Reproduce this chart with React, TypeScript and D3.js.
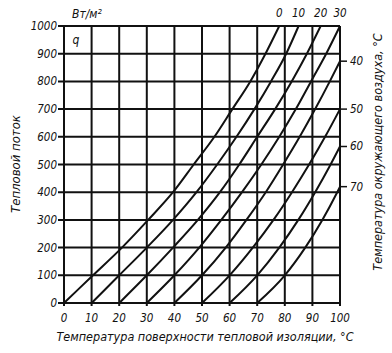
import { scaleLinear, line, curveMonotoneX } from "d3";

const Q_TICKS = [0, 100, 200, 300, 400, 500, 600, 700, 800, 900, 1000];
const T_TICKS = [0, 10, 20, 30, 40, 50, 60, 70, 80, 90, 100];
const TOP_LABELS = ["0", "10", "20", "30"];
const RIGHT_LABELS = ["40", "50", "60", "70"];

// air temperature curves: [surface temp, heat flux]
const C0 = [[0, 0], [10.5, 100], [21, 200], [30.5, 300], [39.5, 400], [47, 500], [54.5, 600], [61, 700], [67.5, 800], [73, 900], [78, 1000]];
const C10 = [[10, 0], [20, 100], [30, 200], [39.5, 300], [48, 400], [55.5, 500], [62.5, 600], [69, 700], [75, 800], [80.5, 900], [85, 1000]];
const C20 = [[20, 0], [30, 100], [39.5, 200], [48.5, 300], [56.5, 400], [63.5, 500], [70, 600], [76.5, 700], [82.5, 800], [88, 900], [93, 1000]];
const C30 = [[30, 0], [40, 100], [49, 200], [57, 300], [64.5, 400], [71.5, 500], [78, 600], [84, 700], [89.5, 800], [95, 900], [100, 1000]];
const C40 = [[40, 0], [50, 100], [58.6, 200], [66.1, 300], [73.1, 400], [79.4, 500], [85.4, 600], [91, 700], [96.3, 800], [100, 873]];
const C50 = [[50, 0], [60, 100], [68.4, 200], [75.9, 300], [82.6, 400], [88.8, 500], [94.6, 600], [100, 700]];
const C60 = [[60, 0], [70, 100], [78, 200], [84.9, 300], [91, 400], [96.6, 500], [100, 565]];
const C70 = [[70, 0], [80, 100], [87.4, 200], [93.6, 300], [99, 400], [100, 420]];
const CURVES = [C0, C10, C20, C30, C40, C50, C60, C70];

const W = 392, H = 353;
const X0 = 64, X1 = 340, Y0 = 303, Y1 = 26;
const FONT = "'Liberation Sans Narrow', 'DejaVu Sans Condensed', 'Liberation Sans', sans-serif";

export default function App() {
  const x = scaleLinear().domain([0, 100]).range([X0, X1]);
  const y = scaleLinear().domain([0, 1000]).range([Y0, Y1]);
  const path = line<number[]>().x(d => x(d[0])).y(d => y(d[1])).curve(curveMonotoneX);
  const topCurves = CURVES.slice(0, 4), rightCurves = CURVES.slice(4);
  const txt = { fontFamily: FONT, fontStyle: "italic" as const, fill: "#111" };
  return (
    <svg width={W} height={H} viewBox={`0 0 ${W} ${H}`}
      style={{ position: "absolute", left: 0, top: 0, background: "#fff" }}>
      <rect width={W} height={H} fill="#fff" />
      {/* grid */}
      {Q_TICKS.map(q => (
        <g key={"q" + q}>
          <line x1={X0 - 6} x2={X1} y1={y(q)} y2={y(q)} stroke="#111" strokeWidth={2} />
          <text x={57} y={y(q) + 4} textAnchor="end" fontSize={11.5} {...txt}>{q}</text>
        </g>
      ))}
      {T_TICKS.map(t => (
        <g key={"t" + t}>
          <line x1={x(t)} x2={x(t)} y1={Y1} y2={Y0 + 3} stroke="#111" strokeWidth={2} />
          <text x={x(t)} y={322} textAnchor="middle" fontSize={11.5} {...txt}>{t}</text>
        </g>
      ))}
      {/* curves */}
      {CURVES.map((c, i) => (
        <path key={i} d={path(c) ?? ""} fill="none" stroke="#111" strokeWidth={2} />
      ))}
      {topCurves.map((c, i) => {
        const e = c[c.length - 1];
        return <text key={"tl" + i} x={x(e[0])} y={17} textAnchor="middle" fontSize={11.5} {...txt}>{TOP_LABELS[i]}</text>;
      })}
      {rightCurves.map((c, i) => {
        const e = c[c.length - 1];
        return (
          <g key={"rl" + i}>
            <line x1={X1} x2={X1 + 7} y1={y(e[1])} y2={y(e[1])} stroke="#111" strokeWidth={1.5} />
            <text x={350} y={y(e[1]) + 4} fontSize={11.5} {...txt}>{RIGHT_LABELS[i]}</text>
          </g>
        );
      })}
      <text x={72} y={18} fontSize={12} {...txt}>Вт/м²</text>
      <text x={76} y={44} textAnchor="middle" fontSize={12} {...txt}>q</text>
      <text x={205} y={341} textAnchor="middle" fontSize={12.5} {...txt}>
        Температура поверхности тепловой изоляции, °С
      </text>
      <text transform={`translate(20,164) rotate(-90)`} textAnchor="middle" fontSize={13} {...txt}>
        Тепловой поток
      </text>
      <text transform={`translate(382,152) rotate(-90)`} textAnchor="middle" fontSize={12.5} {...txt}>
        Температура окружающего воздуха, °С
      </text>
    </svg>
  );
}
